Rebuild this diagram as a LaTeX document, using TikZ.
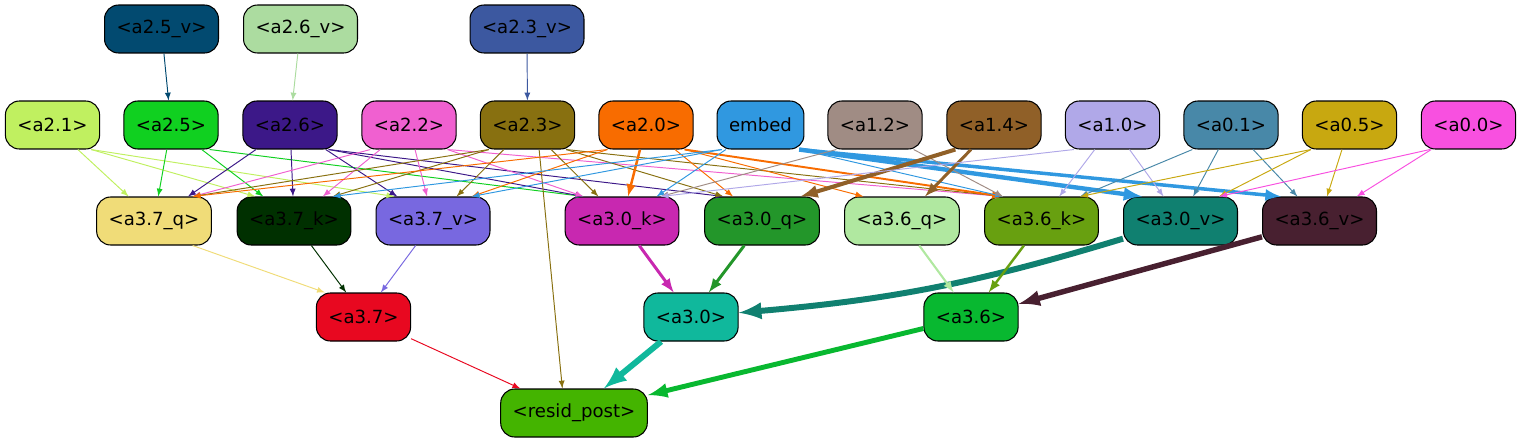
\documentclass[tikz,border=0pt]{standalone}
\usepackage{fontspec}
\setmainfont{DejaVu Sans}
\usepackage{xcolor}
\usepackage{tikz}
\usetikzlibrary{calc}
\definecolor{c25v}{HTML}{024A70}
\definecolor{c26v}{HTML}{ACDCA0}
\definecolor{c23v}{HTML}{3C58A0}
\definecolor{c21}{HTML}{C0F060}
\definecolor{c25}{HTML}{10D020}
\definecolor{c26}{HTML}{3C1888}
\definecolor{c22}{HTML}{F060D0}
\definecolor{c23}{HTML}{887010}
\definecolor{c20}{HTML}{F86C00}
\definecolor{cemb}{HTML}{3098E0}
\definecolor{c12}{HTML}{A08C84}
\definecolor{c14}{HTML}{906028}
\definecolor{c10}{HTML}{B0A8E8}
\definecolor{c01}{HTML}{4888A8}
\definecolor{c05}{HTML}{C8A810}
\definecolor{c00}{HTML}{F850E0}
\definecolor{c37q}{HTML}{F0DC78}
\definecolor{c37k}{HTML}{003000}
\definecolor{c37v}{HTML}{7868E0}
\definecolor{c30k}{HTML}{C828B0}
\definecolor{c30q}{HTML}{23962A}
\definecolor{c36q}{HTML}{B0E8A0}
\definecolor{c36k}{HTML}{68A010}
\definecolor{c30v}{HTML}{108070}
\definecolor{c36v}{HTML}{482030}
\definecolor{c37}{HTML}{E80820}
\definecolor{c30}{HTML}{10B89C}
\definecolor{c36}{HTML}{08B830}
\definecolor{cres}{HTML}{44B400}
% connector from the bottom of one node to the top of another
\newcommand{\wire}[3]{\draw[wire,#1] let \p1=(#2), \p2=(#3),
  \n1={max(-22pt,min(22pt,(\x2-\x1)*0.25))} in
  ($(#2.south)+({\n1*1pt},0)$) -- ($(#3.north)-({\n1*1pt},0)$);}

\begin{document}
\begin{tikzpicture}[x=0.02cm, y=-0.02cm,
    blk/.style={rectangle, draw=black, line width=0.6pt, rounded corners=0.28cm, minimum height=0.96cm, inner xsep=0.24cm, font=\fontsize{10.3}{12}\selectfont},
    wire/.style={line width=0.55pt, -latex}]
		\useasboundingbox (0,0) rectangle (1521,443);

		% Value heads feeding layer 2
		\node[blk, fill=c25v] (a25v) at (161.5,29) {<a2.5\_v>};
		\node[blk, fill=c26v] (a26v) at (300.5,29) {<a2.6\_v>};
		\node[blk, fill=c23v] (a23v) at (527,29) {<a2.3\_v>};

		% Earlier heads
		\node[blk, fill=c21] (a21) at (52.5,125) {<a2.1>};
		\node[blk, fill=c25] (a25) at (171,125) {<a2.5>};
		\node[blk, fill=c26] (a26) at (290,125) {<a2.6>};
		\node[blk, fill=c22] (a22) at (409,125) {<a2.2>};
		\node[blk, fill=c23] (a23) at (527.5,125) {<a2.3>};
		\node[blk, fill=c20] (a20) at (646,125) {<a2.0>};
		\node[blk, fill=cemb] (embed) at (760.5,125) {embed};
		\node[blk, fill=c12] (a12) at (875,125) {<a1.2>};
		\node[blk, fill=c14] (a14) at (994,125) {<a1.4>};
		\node[blk, fill=c10] (a10) at (1112.5,125) {<a1.0>};
		\node[blk, fill=c01] (a01) at (1231,125) {<a0.1>};
		\node[blk, fill=c05] (a05) at (1349.5,125) {<a0.5>};
		\node[blk, fill=c00] (a00) at (1468.5,125) {<a0.0>};

		% Query, key and value inputs of layer 3
		\node[blk, fill=c37q] (a37q) at (154,221) {<a3.7\_q>};
		\node[blk, fill=c37k] (a37k) at (294,221) {<a3.7\_k>};
		\node[blk, fill=c37v] (a37v) at (433,221) {<a3.7\_v>};
		\node[blk, fill=c30k] (a30k) at (622,221) {<a3.0\_k>};
		\node[blk, fill=c30q] (a30q) at (762,221) {<a3.0\_q>};
		\node[blk, fill=c36q] (a36q) at (902,221) {<a3.6\_q>};
		\node[blk, fill=c36k] (a36k) at (1041.5,221) {<a3.6\_k>};
		\node[blk, fill=c30v] (a30v) at (1180.5,221) {<a3.0\_v>};
		\node[blk, fill=c36v] (a36v) at (1319.5,221) {<a3.6\_v>};

		% Layer 3 heads and output
		\node[blk, fill=c37] (a37) at (363.5,317) {<a3.7>};
		\node[blk, fill=c30] (a30) at (691,317) {<a3.0>};
		\node[blk, fill=c36] (a36) at (971,317) {<a3.6>};
		\node[blk, fill=cres] (resid) at (574,413) {<resid\_post>};

		% Connections into layer 2
		\draw[wire, c25v] (a25v) -- (a25);
		\draw[wire, c26v] (a26v) -- (a26);
		\draw[wire, c23v] (a23v) -- (a23);

		% Connections into layer 3 inputs
		\foreach \t in {a37q,a37k,a37v} \wire{c21}{a21}{\t};
		\foreach \t in {a37q,a37k,a30k} \wire{c25}{a25}{\t};
		\foreach \t in {a37q,a37k,a37v,a30k,a30q} \wire{c26}{a26}{\t};
		\foreach \t in {a37q,a37k,a37v,a30k,a36k} \wire{c22}{a22}{\t};
		\foreach \t in {a37q,a37k,a37v,a30k,a30q,a36k,resid} \wire{c23}{a23}{\t};
		\foreach \t in {a37q,a37v,a30q,a36q} \wire{c20}{a20}{\t};
		\wire{c20, line width=1.4pt}{a20}{a30k}
		\wire{c20, line width=1.1pt}{a20}{a36k}
		\foreach \t in {a37k,a37v,a30k,a36k} \wire{cemb}{embed}{\t};
		\wire{cemb, line width=2.5pt}{embed}{a30v}
		\wire{cemb, line width=2pt}{embed}{a36v}
		\foreach \t in {a30k,a36k} \wire{c12}{a12}{\t};
		\wire{c14, line width=2.3pt}{a14}{a30q}
		\wire{c14, line width=1.7pt}{a14}{a36q}
		\foreach \t in {a30k,a36k,a30v} \wire{c10}{a10}{\t};
		\foreach \t in {a36k,a30v,a36v} \wire{c01}{a01}{\t};
		\foreach \t in {a36k,a30v,a36v} \wire{c05}{a05}{\t};
		\foreach \t in {a30v,a36v} \wire{c00}{a00}{\t};

		% Connections into layer 3 heads
		\wire{c37q}{a37q}{a37}
		\wire{c37k}{a37k}{a37}
		\wire{c37v}{a37v}{a37}
		\wire{c30k, line width=1.7pt}{a30k}{a30}
		\wire{c30q, line width=1.7pt}{a30q}{a30}
		\draw[wire, c30v, line width=3.4pt] (a30v) to[bend left=6] (a30);
		\wire{c36q, line width=1.2pt}{a36q}{a36}
		\wire{c36k, line width=1.4pt}{a36k}{a36}
		\draw[wire, c36v, line width=3.1pt] (a36v) -- (a36);

		% Connections into the residual stream
		\draw[wire, c37] (a37) -- (resid);
		\draw[wire, c30, line width=3.4pt] (a30) -- (resid);
		\draw[wire, c36, line width=2.8pt] (a36) -- (resid);
\end{tikzpicture}
\end{document}
